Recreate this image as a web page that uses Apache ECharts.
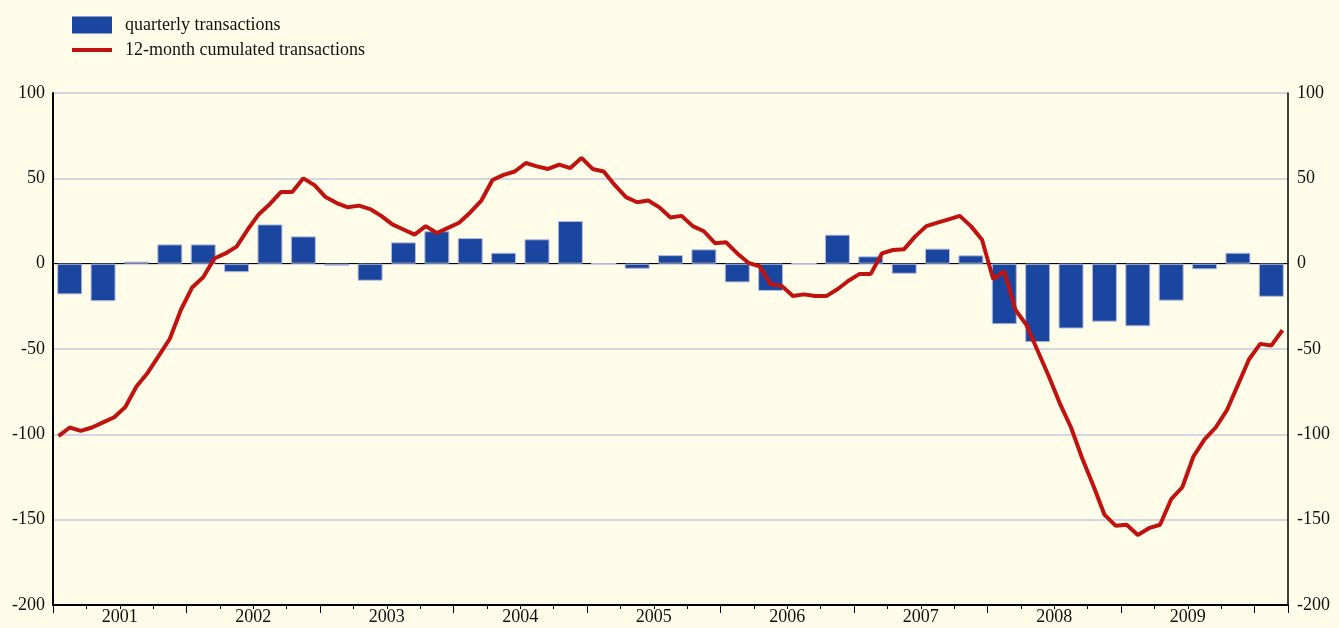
<!DOCTYPE html>
<html>
<head>
<meta charset="utf-8">
<script src="https://cdn.jsdelivr.net/npm/echarts@6/dist/echarts.min.js"></script>
<style>
  html, body { margin: 0; padding: 0; background: #fffde9; }
  #chart { width: 1339px; height: 628px; }
</style>
</head>
<body>
<div id="chart"></div>
<script>
// quarterly transactions, 2001Q1 .. 2010Q1
const quarterValues = [-18, -22, 1.2, 11.3, 11.3, -5, 23, 16, -1.2, -10, 12.5, 19, 15, 6.4, 14.3, 25,
  0, -3, 5, 8.4, -11, -16, 0, 17, 4.3, -5.9, 8.8, 4.9, -35.5, -46, -38, -34, -36.7, -21.7, -3.3, 6.4, -19.4];

// 12-month cumulated transactions, monthly Jan 2001 .. Mar 2010
const monthValues = [
  -101, -96, -98, -96, -93, -90, -84, -72, -64, -54, -44, -27,
  -14, -8, 3, 6, 10, 20, 29, 35, 42, 42, 50, 46,
  39, 35.5, 33, 34, 32, 28, 23, 20, 17, 22, 18, 21,
  24, 30, 37, 49, 52, 54, 59, 57, 55.5, 58, 56, 62,
  55.5, 54, 46, 39, 36, 37, 33, 27, 28, 22, 19, 12,
  12.5, 6, 0.5, -1.5, -12, -13, -19, -18, -19, -19, -15, -10,
  -6, -6, 6, 8, 8.5, 16, 22, 24, 26, 28, 22, 14,
  -9, -4.5, -27, -36, -51, -66, -82, -96, -114, -130, -147, -153.5,
  -153, -159, -155, -153, -138, -131, -113, -103, -96, -86, -71, -56,
  -47, -48, -39
];

const firstYear = 2001;
const yTicks = [-200, -150, -100, -50, 0, 50, 100];

const FONT = 'Liberation Serif';
const chart = echarts.init(document.getElementById('chart'));

// x positions in months from Jan 2001
const barData = quarterValues.map((v, i) => [i * 3 + 1.5, v]);
const lineData = monthValues.map((v, i) => [i + 0.5, v]);
const xMax = monthValues.length;

const baseX = {
  type: 'value', min: 0, max: xMax, position: 'bottom',
  splitLine: { show: false },
  axisLabel: { show: false },
  axisTick: { show: false },
  axisLine: { show: false, onZero: false }
};

const option = {
  backgroundColor: '#fffde9',
  animation: false,
  grid: { left: 53, right: 51, top: 93, bottom: 23, outerBoundsMode: 'none' },
  legend: [
    {
      left: 67, top: 11, itemWidth: 40, itemHeight: 17, icon: 'rect',
      data: ['quarterly transactions'],
      itemStyle: { borderWidth: 0 },
      textStyle: { fontFamily: FONT, fontSize: 18, color: '#111', padding: [0, 0, 0, 8] }
    },
    {
      left: 67, top: 36, itemWidth: 40, itemHeight: 4, icon: 'rect',
      data: ['12-month cumulated transactions'],
      textStyle: { fontFamily: FONT, fontSize: 18, color: '#111', padding: [0, 0, 0, 8] }
    }
  ],
  xAxis: [
    // quarter ticks + bottom axis line
    Object.assign({}, baseX, {
      interval: 3,
      axisLine: { show: true, onZero: false, lineStyle: { color: '#000', width: 2 } },
      axisTick: { show: true, length: 4, lineStyle: { color: '#000', width: 1 } }
    }),
    // year ticks
    Object.assign({}, baseX, {
      interval: 12,
      axisTick: { show: true, length: 8, lineStyle: { color: '#000', width: 1 } }
    }),
    // year labels
    Object.assign({}, baseX, {
      interval: 6,
      axisLabel: {
        show: true, margin: 3, fontFamily: FONT, fontSize: 18, color: '#111',
        formatter: v => (v % 12 === 6 ? String(firstYear + (v - 6) / 12) : '')
      }
    }),
    // zero line
    Object.assign({}, baseX, {
      axisLine: { show: true, onZero: true, lineStyle: { color: '#000', width: 1 } }
    })
  ],
  yAxis: [
    {
      type: 'value', min: yTicks[0], max: yTicks[yTicks.length - 1], interval: 50, position: 'left',
      axisLine: { show: true, onZero: false, lineStyle: { color: '#000', width: 2 } },
      axisTick: { show: false },
      axisLabel: { margin: 8, fontFamily: FONT, fontSize: 18, color: '#111' },
      splitLine: { show: true, lineStyle: { color: '#c3c8e0', width: 1.5 } }
    },
    {
      type: 'value', min: yTicks[0], max: yTicks[yTicks.length - 1], interval: 50, position: 'right',
      axisLine: { show: true, onZero: false, lineStyle: { color: '#000', width: 1.5 } },
      axisTick: { show: false },
      axisLabel: { margin: 9, fontFamily: FONT, fontSize: 18, color: '#111' },
      splitLine: { show: false }
    }
  ],
  series: [
    {
      name: 'quarterly transactions',
      type: 'bar',
      xAxisIndex: 0, yAxisIndex: 0,
      barWidth: 25,
      data: barData,
      z: 2,
      itemStyle: { color: '#1a46a0', borderColor: '#b4bcd8', borderWidth: 1 }
    },
    {
      name: '12-month cumulated transactions',
      type: 'line',
      xAxisIndex: 0, yAxisIndex: 0,
      data: lineData,
      symbol: 'none',
      z: 3,
      itemStyle: { color: '#c0120e' },
      lineStyle: { color: '#c0120e', width: 4 }
    }
  ]
};

chart.setOption(option);
</script>
</body>
</html>
